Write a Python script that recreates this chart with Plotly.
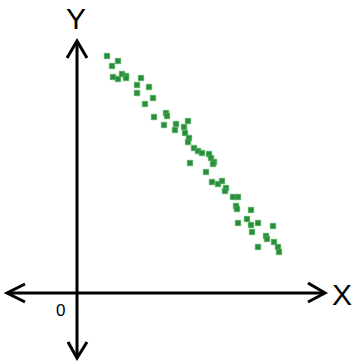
import plotly.graph_objects as go

# scatter points (x, y) measured from the origin of the drawn axes
x_vals = [30, 35, 41, 36, 41, 45, 49, 49, 64, 60, 72, 60, 76, 68, 77, 89, 90, 87,
          99, 107, 111, 98, 108, 112, 111, 117, 121, 125, 132, 134, 137, 136, 113,
          129, 135, 141, 145, 149, 148, 156, 161, 159, 160, 174, 161, 170, 174, 175,
          181, 196, 189, 190, 197, 181, 201, 202]
y_vals = [237, 227, 232, 216, 214, 219, 217, 215, 215, 208, 206, 200, 195, 189, 176,
          180, 177, 168, 169, 166, 172, 163, 160, 155, 151, 145, 142, 140, 139, 135,
          131, 129, 130, 121, 111, 109, 112, 105, 102, 96, 96, 87, 84, 83, 70, 74,
          68, 61, 70, 67, 57, 54, 51, 46, 46, 41]

axis_labels = ["X", "Y", "0"]

fig = go.Figure()

fig.add_trace(
    go.Scatter(
        x=x_vals,
        y=y_vals,
        mode="markers",
        marker=dict(symbol="square", size=5.5, color="#2b8d3b",
                    line=dict(width=0.6, color="#4fb35c")),
        showlegend=False,
        hoverinfo="skip",
    )
)

line_style = dict(color="black", width=3)

# axis lines
fig.add_shape(type="line", x0=-70, y0=0, x1=248, y1=0, line=line_style)
fig.add_shape(type="line", x0=0, y0=-65, x1=0, y1=252, line=line_style)

# chevron arrow heads
fig.add_shape(type="path", path="M -52 9 L -70 0 L -52 -9", line=line_style)
fig.add_shape(type="path", path="M 231 10 L 248 0 L 231 -9", line=line_style)
fig.add_shape(type="path", path="M -9 -49 L 0 -65 L 10 -49", line=line_style)
fig.add_shape(type="path", path="M -10 235 L 0 252 L 10 235", line=line_style)

fig.add_annotation(x=265, y=-1, text=axis_labels[0], showarrow=False,
                   font=dict(family="Liberation Sans", size=30, color="black"))
fig.add_annotation(x=-1, y=275, text=axis_labels[1], showarrow=False,
                   font=dict(family="Liberation Sans", size=30, color="black"))
fig.add_annotation(x=-17, y=-17, text=axis_labels[2], showarrow=False,
                   font=dict(family="Liberation Sans", size=17, color="black"))

fig.update_xaxes(range=[-77, 276], visible=False)
fig.update_yaxes(range=[-71, 293], visible=False)

fig.update_layout(
    width=353,
    height=364,
    margin=dict(l=0, r=0, t=0, b=0),
    paper_bgcolor="white",
    plot_bgcolor="white",
)

# drop the default page margin so the figure sits at the window's corner
fig.write_html(
    "out.html",
    config={"displayModeBar": False},
    post_script="document.body.style.margin='0';",
)
